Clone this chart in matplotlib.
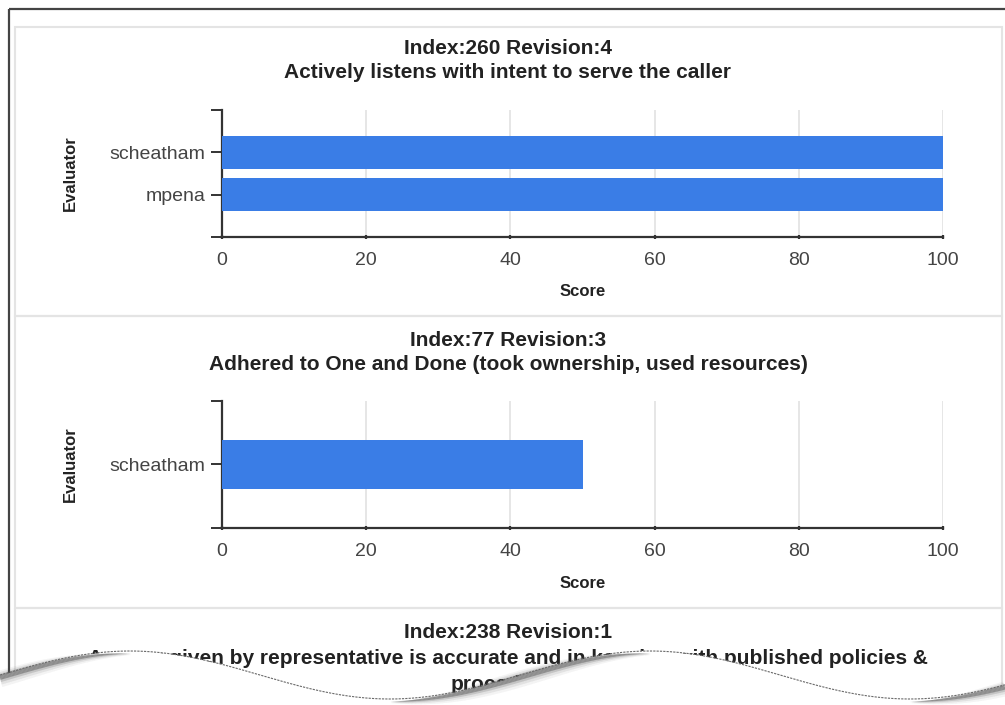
import numpy as np
import matplotlib.pyplot as plt
from matplotlib.patches import Rectangle
from matplotlib.collections import LineCollection

plt.rcParams['font.family'] = ['Liberation Sans', 'DejaVu Sans']

W, H = 1005, 705

# question 1
q1_title = ['Index:260 Revision:4',
            'Actively listens with intent to serve the caller']
q1_evaluators = ['scheatham', 'mpena']
q1_scores = [100, 100]

# question 2
q2_title = ['Index:77 Revision:3',
            'Adhered to One and Done (took ownership, used resources)']
q2_evaluators = ['scheatham']
q2_scores = [50]

# question 3 (page cut off below)
q3_title = ['Index:238 Revision:1',
            'Answer given by representative is accurate and in keeping with published policies &',
            'procedures']

score_ticks = [0, 20, 40, 60, 80, 100]

BAR = '#3a7de6'
AXIS = '#333333'
GRID = '#e2e2e2'
PANEL = '#e4e4e4'

fig = plt.figure(figsize=(W / 100, H / 100), dpi=100)

# page background in pixel units
bg = fig.add_axes([0, 0, 1, 1], zorder=0)
bg.set_xlim(0, W)
bg.set_ylim(H, 0)
bg.axis('off')

# outer report frame
bg.plot([9, 9], [9, 690], color='#444444', lw=1.6, solid_capstyle='butt')
bg.plot([9, W], [9, 9], color='#444444', lw=1.6, solid_capstyle='butt')

# one panel per question
for y0, y1 in [(27, 316), (316, 608), (608, 730)]:
    bg.add_patch(Rectangle((15, y0), 987, y1 - y0, fill=False,
                           edgecolor=PANEL, lw=1.5))


def score_chart(top, names, scores, title):
    bottom = top + 127
    ax = fig.add_axes([222 / W, 1 - bottom / H, 721 / W, 127 / H], zorder=1)
    ax.set_facecolor('none')
    pos = np.arange(len(names))
    ax.barh(pos, scores, height=0.78, color=BAR, zorder=3)

    ax.set_xlim(0, 100)
    ax.set_ylim(len(names), -1)
    ax.set_xticks(score_ticks)
    ax.set_xticklabels([str(t) for t in score_ticks])
    ax.set_yticks(np.arange(-1, len(names) + 1))
    ax.set_yticklabels([''] + names + [''])

    ax.grid(axis='x', color=GRID, lw=1.2, zorder=0)
    ax.set_axisbelow(True)
    for s in ['top', 'right']:
        ax.spines[s].set_visible(False)
    for s in ['left', 'bottom']:
        ax.spines[s].set_color(AXIS)
        ax.spines[s].set_linewidth(1.6)
    ax.tick_params(axis='x', direction='inout', length=3, width=1.6,
                   color=AXIS, labelsize=14, labelcolor='#444444', pad=9)
    ax.tick_params(axis='y', direction='out', length=8, width=1.4,
                   color=AXIS, labelsize=14, labelcolor='#444444', pad=4)

    bg.text(508, top - 61, title[0], ha='center', va='center',
            fontsize=15, fontweight='bold', color='#222222')
    bg.text(508, top - 37, title[1], ha='center', va='center',
            fontsize=15, fontweight='bold', color='#222222')
    bg.text(582.5, bottom + 55, 'Score', ha='center', va='center',
            fontsize=12, fontweight='bold', color='#222222')
    bg.text(70, (top + bottom) / 2, 'Evaluator', ha='center', va='center',
            rotation=90, fontsize=12, fontweight='bold', color='#222222')
    return ax


score_chart(110, q1_evaluators, q1_scores, q1_title)
score_chart(401, q2_evaluators, q2_scores, q2_title)

for i, line in enumerate(q3_title):
    bg.text(508, 633 + 26 * i, line, ha='center', va='center',
            fontsize=15, fontweight='bold', color='#222222')

# torn paper edge over the bottom of the page
tear = fig.add_axes([0, 0, 1, 1], zorder=5)
tear.set_xlim(0, W)
tear.set_ylim(H, 0)
tear.axis('off')

xs = np.linspace(0, W, 800)
edge = 675 - 24 * np.cos(2 * np.pi * (xs - 130) / 520)
tear.fill_between(xs, edge, H + 10, color='white', lw=0)

# soft curl shadow where the edge climbs
rise = np.clip(-np.gradient(edge, xs), 0, None)
w = rise[:-1] / rise.max()
for off, scale, alpha in [(4, 12, 0.06), (3.5, 9, 0.1), (3, 6, 0.2), (2.5, 3.5, 0.45)]:
    pts = np.column_stack([xs, edge + off]).reshape(-1, 1, 2)
    segs = np.concatenate([pts[:-1], pts[1:]], axis=1)
    tear.add_collection(LineCollection(segs, linewidths=w * scale,
                                       colors=[(0.3, 0.3, 0.3, alpha)],
                                       capstyle='butt'))
tear.plot(xs, edge, color='#6a6a6a', lw=0.8, ls=(0, (2, 1)))

fig.savefig('out.png', dpi=100, facecolor='white')
